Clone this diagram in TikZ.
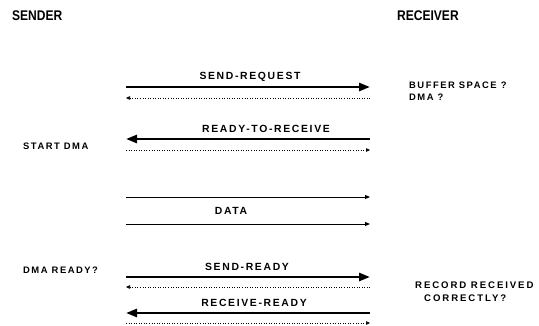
\documentclass[tikz,border=0pt]{standalone}
\usepackage{fontspec}
\setmainfont{Liberation Sans}
\newfontfamily\msgfont[LetterSpace=16]{Liberation Sans}
\newfontfamily\widefont[LetterSpace=20]{Liberation Sans}
\usetikzlibrary{arrows.meta}

\tikzset{
  heavy/.style={line width=2.6pt, -{Triangle[length=11pt,width=8pt]}},
  reply/.style={line width=0.55pt, dotted, -{Triangle[length=4pt,width=3.5pt]}},
  plain/.style={line width=0.9pt, -{Triangle[length=5pt,width=4pt]}},
  msg/.style={font=\msgfont\bfseries\fontsize{10.4}{12}\selectfont, inner sep=0pt},
  note/.style={font=\msgfont\bfseries\fontsize{9.4}{11}\selectfont, inner sep=0pt, anchor=west, align=left},
  widenote/.style={note, font=\widefont\bfseries\fontsize{9.6}{11}\selectfont},
  party/.style={font=\bfseries\fontsize{14}{16}\selectfont, inner sep=0pt, anchor=west, xscale=0.86, transform shape}
}

\begin{document}
\begin{tikzpicture}[x=1pt,y=-1pt]
\useasboundingbox (0,0) rectangle (539,326);

% column ends of the message lines
\foreach \n/\y in {a/87,b/98,c/139,d/150,e/197,f/224,g/277,h/287,i/313,j/323}{
  \coordinate (L\n) at (126,\y);
  \coordinate (R\n) at (370,\y);
}

% headings
\node[party] (sender) at (12,15.5) {SENDER};
\node[party] (receiver) at (397,15.5) {RECEIVER};

% messages
\draw[heavy] (La) -- (Ra);
\node[msg] (sendreq) at (250,77) {SEND-REQUEST};
\draw[reply] (Rb) -- (Lb);

\node[msg, anchor=west] (readyrx) at (202,129) {READY-TO-RECEIVE};
\draw[heavy] (Rc) -- (Lc);
\draw[reply] (Ld) -- (Rd);

\draw[plain] (Le) -- (Re);
\node[msg] (data) at (231,211) {DATA};
\draw[plain] (Lf) -- (Rf);

\node[msg] (sendready) at (247,267) {SEND-READY};
\draw[heavy] (Lg) -- (Rg);
\draw[reply] (Rh) -- (Lh);

\node[msg] (rxready) at (254,303) {RECEIVE-READY};
\draw[heavy] (Ri) -- (Li);
\draw[reply] (Lj) -- (Rj);

% side notes
\node[note] (buffer) at (409,85) {BUFFER SPACE ?};
\node[note] (dmaq) at (409,97) {DMA ?};
\node[note] (startdma) at (23,146) {START DMA};
\node[note] (dmaready) at (23,270) {DMA READY?};
\node[widenote] (record) at (415,285) {RECORD RECEIVED};
\node[widenote] (correct) at (424,298) {CORRECTLY?};
\end{tikzpicture}
\end{document}
